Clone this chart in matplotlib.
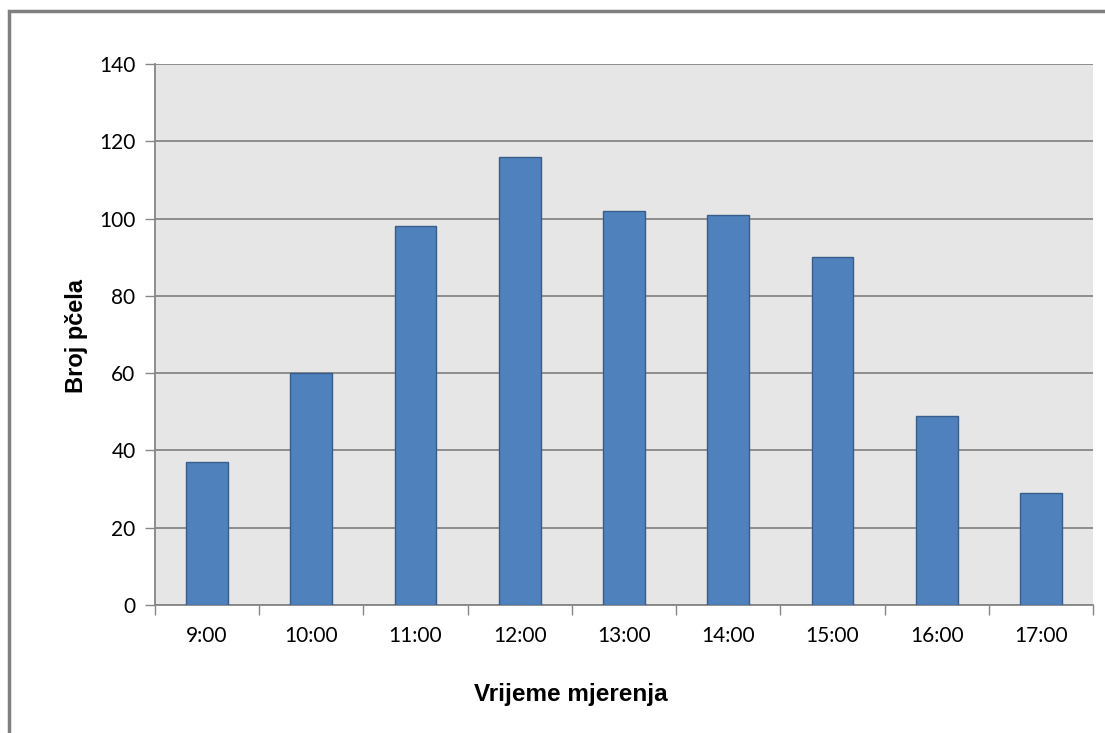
import numpy as np
import matplotlib.pyplot as plt
from matplotlib.patches import Rectangle

# ==========================
# Data
# ==========================
hours = ["9:00", "10:00", "11:00", "12:00", "13:00", "14:00", "15:00", "16:00", "17:00"]
bees = [37, 60, 98, 116, 102, 101, 90, 49, 29]

y_ticks = [0, 20, 40, 60, 80, 100, 120, 140]

bar_color = "#4F81BD"
edge_color = "#385D8A"
grid_color = "#868686"

# ==========================
# Figure
# ==========================
fig = plt.figure(figsize=(11.05, 7.33), dpi=100)
ax = fig.add_axes([155 / 1105, 128 / 733, 938 / 1105, 541 / 733])

x = np.arange(len(hours))
ax.bar(x, bees, width=0.4, color=bar_color, edgecolor=edge_color,
       linewidth=1.0, zorder=3)

ax.set_facecolor("#E6E6E6")
ax.set_xlim(-0.5, len(hours) - 0.5)
ax.set_ylim(0, 140)

ax.set_yticks(y_ticks)
ax.yaxis.grid(True, color=grid_color, linewidth=1.3, zorder=1)
ax.set_axisbelow(True)

# category labels between boundary ticks
ax.set_xticks(x)
ax.set_xticklabels(hours)
ax.tick_params(axis="x", length=0, pad=15)
ax.set_xticks(np.arange(-0.5, len(hours), 1.0), minor=True)
ax.tick_params(axis="x", which="minor", length=7, color=grid_color, width=1)
ax.tick_params(axis="y", length=7, color=grid_color, width=1, pad=7)

for lbl in ax.get_xticklabels() + ax.get_yticklabels():
    lbl.set_fontfamily("Lato")
    lbl.set_fontsize(15)

for side in ["top", "right"]:
    ax.spines[side].set_visible(False)
for side in ["left", "bottom"]:
    ax.spines[side].set_color(grid_color)
    ax.spines[side].set_linewidth(1.3)

fig.text(76 / 1105, 1 - 336 / 733, "Broj pčela", rotation=90,
         ha="center", va="center", fontsize=17, fontweight="bold",
         family="Liberation Sans")
fig.text(571 / 1105, 1 - 695 / 733, "Vrijeme mjerenja",
         ha="center", va="center", fontsize=17.5, fontweight="bold",
         family="Liberation Sans")

# outer chart frame (only left and top visible in the picture)
fig.patches.append(Rectangle((9 / 1105, -0.1), 1.2, 1 - 11 / 733 + 0.1,
                             transform=fig.transFigure, fill=False,
                             edgecolor="#7F7F7F", linewidth=2.5))

fig.savefig("out.png", dpi=100)
